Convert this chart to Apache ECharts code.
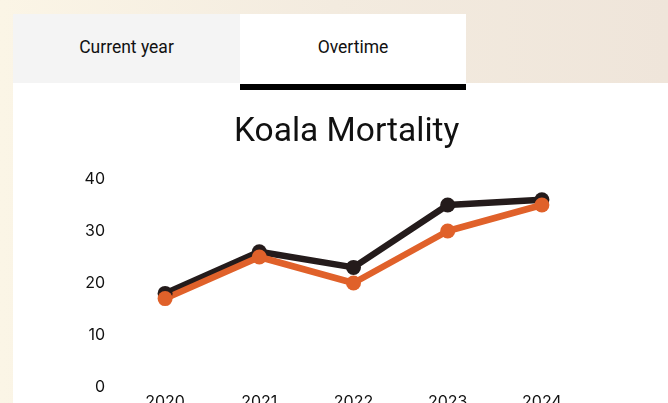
<!DOCTYPE html>
<html>
<head>
<meta charset="utf-8">
<script src="https://cdn.jsdelivr.net/npm/echarts@6/dist/echarts.min.js"></script>
<style>
  html, body { margin: 0; padding: 0; }
  body {
    width: 668px; height: 403px; overflow: hidden; position: relative;
    background: linear-gradient(90deg, #fbf5e6 0%, #f3ebdf 50%, #efe5da 100%);
    font-family: Roboto, sans-serif;
  }
  .tab {
    position: absolute; top: 14px; height: 69px; width: 227px;
    display: flex; align-items: center; justify-content: center;
    font-size: 17.5px; color: #111;
    padding-bottom: 4px; box-sizing: border-box;
  }
  #tab1 { left: 13px; background: #f4f4f4; }
  #tab2 { left: 240px; width: 226px; background: #fff; }
  #underline { position: absolute; left: 240px; top: 84px; width: 226px; height: 6px; background: #000; }
  #panel { position: absolute; left: 13px; top: 83px; right: 0; bottom: 0; background: #fff; }
  #chart { position: absolute; left: 0; top: 0; width: 668px; height: 403px; }
</style>
</head>
<body>
<div id="panel"></div>
<div class="tab" id="tab1">Current year</div>
<div class="tab" id="tab2">Overtime</div>
<div id="underline"></div>
<div id="chart"></div>
<script>
const years = ['2020', '2021', '2022', '2023', '2024'];
const seriesDark = [18, 26, 23, 35, 36];
const seriesOrange = [17, 25, 20, 30, 35];
const colors = { dark: '#241b1b', orange: '#e0612a' };

const chart = echarts.init(document.getElementById('chart'));

const lineSeries = (name, data, color) => ({
  name,
  type: 'line',
  data,
  symbol: 'circle',
  symbolSize: 15,
  lineStyle: { width: 6.5, color },
  itemStyle: { color },
  animation: false,
});

chart.setOption({
  backgroundColor: 'transparent',
  title: {
    text: 'Koala Mortality',
    left: 229,
    top: 111,
    textStyle: { fontFamily: 'Roboto', fontSize: 33.5, fontWeight: 'normal', color: '#111' },
  },
  grid: { left: 118, right: 79, top: 179, bottom: 16, outerBoundsMode: 'none' },
  xAxis: {
    type: 'category',
    data: years,
    axisLine: { show: false },
    axisTick: { show: false },
    axisLabel: { color: '#111', fontSize: 16, fontFamily: 'Inter', margin: 7 },
  },
  yAxis: {
    type: 'value',
    min: 0,
    max: 40,
    interval: 10,
    axisLine: { show: false },
    axisTick: { show: false },
    splitLine: { show: false },
    axisLabel: { color: '#111', fontSize: 16, fontFamily: 'Inter', margin: 13 },
  },
  series: [
    lineSeries('Previous', seriesDark, colors.dark),
    lineSeries('Current', seriesOrange, colors.orange),
  ],
});
</script>
</body>
</html>
